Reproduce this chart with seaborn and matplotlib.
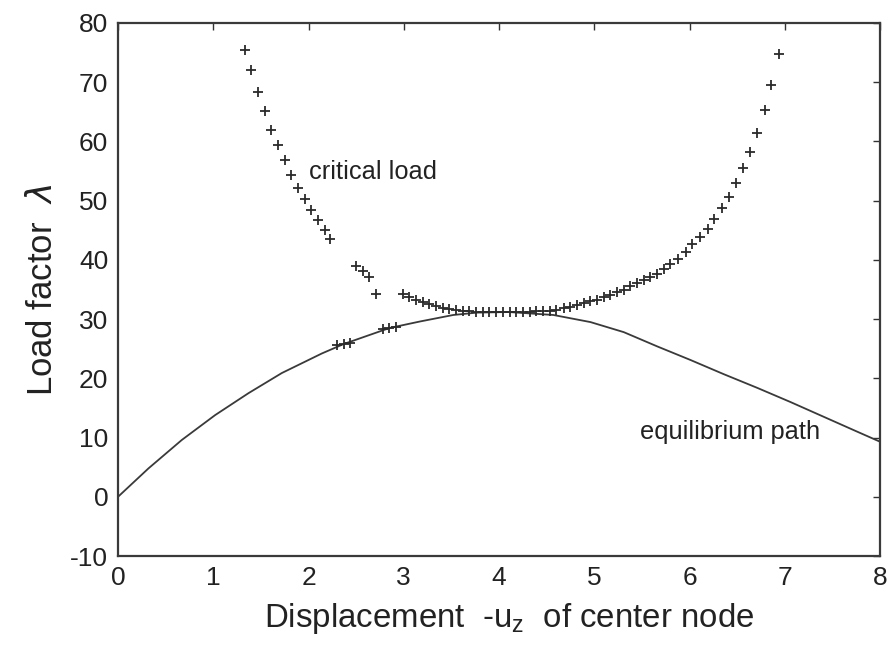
import matplotlib
matplotlib.use("Agg")
import matplotlib.pyplot as plt
import seaborn as sns
import pandas as pd

# Equilibrium path: load factor vs. displacement of the center node
eq_u = [0.00, 0.32, 0.67, 1.02, 1.37, 1.72, 2.14, 2.37, 2.85, 3.17, 3.52, 3.77,
        4.10, 4.57, 4.96, 5.31, 5.66, 6.01, 6.36, 6.71, 7.06, 7.41, 7.76, 8.00]
eq_lam = [0.0, 4.8, 9.6, 13.8, 17.5, 20.9, 24.2, 25.8, 28.5, 29.6, 30.7, 31.1,
          31.2, 30.7, 29.5, 27.8, 25.4, 23.1, 20.7, 18.4, 16.0, 13.5, 11.0, 9.3]

# Critical load evaluated along the path
crit_u = [1.33, 1.40, 1.47, 1.54, 1.61, 1.68, 1.75, 1.82, 1.89, 1.96, 2.03, 2.10,
          2.17, 2.23, 2.30, 2.37, 2.44, 2.50, 2.57, 2.64, 2.71, 2.78, 2.85, 2.92,
          2.99, 3.06, 3.13, 3.20, 3.27, 3.34, 3.41, 3.48, 3.55, 3.62, 3.69, 3.76,
          3.83, 3.90, 3.97, 4.04, 4.11, 4.18, 4.25, 4.32, 4.39, 4.46, 4.53, 4.60,
          4.68, 4.75, 4.82, 4.89, 4.96, 5.03, 5.10, 5.17, 5.24, 5.31, 5.38, 5.45,
          5.52, 5.59, 5.66, 5.73, 5.80, 5.88, 5.96, 6.03, 6.11, 6.19, 6.26, 6.34,
          6.41, 6.49, 6.56, 6.64, 6.71, 6.79, 6.86, 6.94]
crit_lam = [75.5, 72.0, 68.3, 65.1, 62.0, 59.4, 56.8, 54.3, 52.2, 50.2, 48.4, 46.7,
            45.0, 43.5, 25.6, 25.8, 26.0, 39.0, 38.1, 37.1, 34.2, 28.3, 28.5, 28.7,
            34.2, 33.7, 33.3, 32.9, 32.5, 32.2, 31.9, 31.7, 31.5, 31.4, 31.3, 31.2,
            31.2, 31.2, 31.2, 31.2, 31.2, 31.2, 31.2, 31.2, 31.3, 31.3, 31.4, 31.6,
            31.8, 32.0, 32.3, 32.7, 33.0, 33.3, 33.7, 34.1, 34.6, 35.0, 35.6, 36.1,
            36.6, 37.1, 37.7, 38.4, 39.3, 40.2, 41.4, 42.6, 43.9, 45.3, 46.9, 48.7,
            50.6, 52.9, 55.5, 58.3, 61.5, 65.3, 69.5, 74.7]

x_ticks = [0, 1, 2, 3, 4, 5, 6, 7, 8]
y_ticks = [-10, 0, 10, 20, 30, 40, 50, 60, 70, 80]

eq_df = pd.DataFrame({"u": eq_u, "lam": eq_lam})
crit_df = pd.DataFrame({"u": crit_u, "lam": crit_lam})

sns.set_style("white")
plt.rcParams["font.family"] = ["Liberation Sans", "DejaVu Sans"]
plt.rcParams.update({
    "axes.unicode_minus": False,
    "xtick.direction": "in", "ytick.direction": "in",
    "xtick.top": True, "ytick.right": True,
    "xtick.major.size": 5, "ytick.major.size": 5,
    "xtick.major.width": 1.0, "ytick.major.width": 1.0,
    "xtick.color": "#333333", "ytick.color": "#333333",
    "xtick.labelcolor": "#222222", "ytick.labelcolor": "#222222",
})

fig = plt.figure(figsize=(8.9, 6.53), dpi=100)
ax = fig.add_axes([0.1326, 0.1485, 0.8562, 0.8163])

ink = "#2b2b2b"
sns.lineplot(data=eq_df, x="u", y="lam", ax=ax, color="#3a3a3a", linewidth=1.3,
             sort=False, estimator=None)
sns.scatterplot(data=crit_df, x="u", y="lam", ax=ax, marker="+", s=60,
                color=ink, linewidth=1.3, zorder=3)

ax.set_xlim(0, 8)
ax.set_ylim(-10, 80)
ax.set_xticks(x_ticks)
ax.set_yticks(y_ticks)
ax.tick_params(labelsize=19, pad=7)
for side in ax.spines.values():
    side.set_color("#3a3a3a")
    side.set_linewidth(1.6)

ax.set_xlabel(r"Displacement  -u$_\mathregular{z}$  of center node", fontsize=23.8,
              color="#222222")
ax.xaxis.set_label_coords(0.513, -0.085)
ax.set_ylabel(r"Load factor  $\lambda$", fontsize=25, color="#222222", labelpad=8)

ax.text(2.0, 54.8, "critical load", fontsize=18.3, color="#222222", va="center")
ax.text(5.48, 11.0, "equilibrium path", fontsize=18.3, color="#222222", va="center")

fig.savefig("out.png", dpi=100)
